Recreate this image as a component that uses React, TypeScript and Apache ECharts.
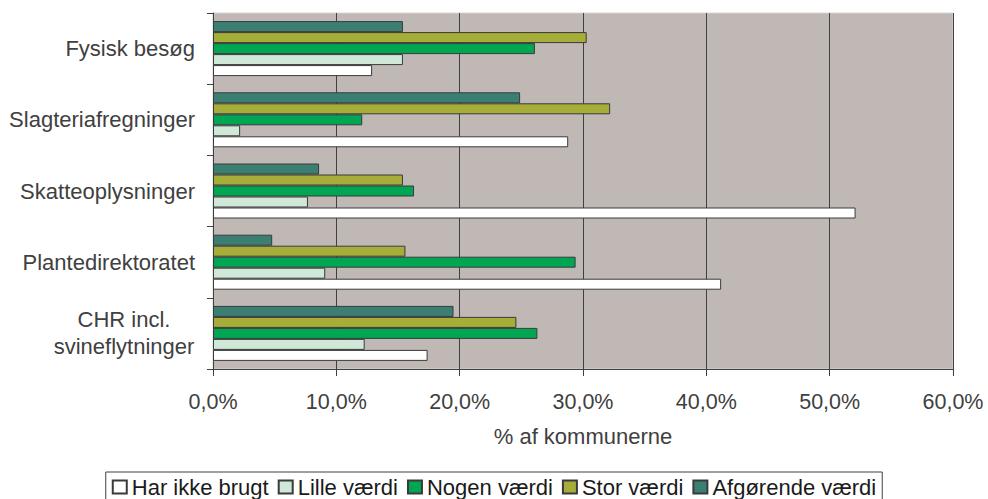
import React, { useEffect, useRef } from "react";
import * as echarts from "echarts";

const categories = [
  "Fysisk besøg",
  "Slagteriafregninger",
  "Skatteoplysninger",
  "Plantedirektoratet",
  "CHR incl.\nsvineflytninger",
];

const seriesNames = [
  "Har ikke brugt",
  "Lille værdi",
  "Nogen værdi",
  "Stor værdi",
  "Afgørende værdi",
];

const harIkkeBrugt = [12.9, 28.8, 52.1, 41.2, 17.4];
const lilleVaerdi = [15.4, 2.2, 7.7, 9.1, 12.3];
const nogenVaerdi = [26.1, 12.1, 16.3, 29.4, 26.3];
const storVaerdi = [30.3, 32.2, 15.4, 15.6, 24.6];
const afgoerendeVaerdi = [15.4, 24.9, 8.6, 4.8, 19.5];

const xTicks = [0, 10, 20, 30, 40, 50, 60];

const colors = ["#FFFFFF", "#CFE8D7", "#00A651", "#A6AD38", "#3B7F73"];

export default function App() {
  const ref = useRef<HTMLDivElement>(null);
  useEffect(() => {
    if (!ref.current) return;
    const chart = echarts.init(ref.current, undefined, { renderer: "svg" });
    const values = [harIkkeBrugt, lilleVaerdi, nogenVaerdi, storVaerdi, afgoerendeVaerdi];
    const font = "'Liberation Sans', Arial, sans-serif";
    const series = seriesNames
      .map((name, i) => ({
        name,
        type: "bar",
        data: values[i],
        barWidth: 11,
        barGap: "0%",
        itemStyle: { color: colors[i], borderColor: "#3a3a3a", borderWidth: 1 },
      }))
      .reverse();
    chart.setOption({
      animation: false,
      textStyle: { fontFamily: font },
      grid: {
        left: 213,
        right: 35,
        top: 13,
        bottom: 130,
        show: true,
        backgroundColor: "#C0B8B5",
        borderColor: "#d8d4d3",
        borderWidth: 1,
      },
      legend: {
        data: seriesNames,
        left: "center",
        top: 472,
        orient: "horizontal",
        borderColor: "#404040",
        borderWidth: 1,
        borderRadius: 0,
        padding: [4, 6, 4, 6],
        itemGap: 9,
        itemWidth: 14,
        itemHeight: 13,
        icon: "rect",
        textStyle: { fontSize: 22, color: "#1a1a1a", fontFamily: font },
      },
      xAxis: {
        type: "value",
        min: xTicks[0],
        max: xTicks[xTicks.length - 1],
        interval: 10,
        name: "% af kommunerne",
        nameLocation: "middle",
        nameGap: 56,
        nameTextStyle: { fontSize: 22, color: "#404040", fontFamily: font },
        axisLine: { show: true, lineStyle: { color: "#404040", width: 1 } },
        axisTick: { show: true, length: 7, lineStyle: { color: "#404040" } },
        axisLabel: {
          fontSize: 21.5,
          color: "#404040",
          margin: 22,
          fontFamily: font,
          formatter: (v: number) => v.toFixed(1).replace(".", ",") + "%",
        },
        splitLine: { show: true, lineStyle: { color: "#404040", width: 1 } },
      },
      yAxis: {
        type: "category",
        data: categories,
        inverse: true,
        axisLine: { show: true, lineStyle: { color: "#404040", width: 1 } },
        axisTick: { show: true, length: 6, alignWithLabel: false, lineStyle: { color: "#404040" } },
        axisLabel: {
          fontSize: 22,
          color: "#404040",
          margin: 18,
          fontFamily: font,
          lineHeight: 27,
          formatter: (v: string) =>
            v.indexOf("\n") >= 0
              ? v.split("\n").map((s) => "{c|" + s + "}").join("\n")
              : v,
          rich: {
            c: { width: 142, align: "center", fontSize: 22, color: "#404040", fontFamily: font, lineHeight: 27 },
          },
        },
      },
      series,
    });
    return () => chart.dispose();
  }, []);
  return (
    <div
      ref={ref}
      style={{ position: "fixed", left: 0, top: 0, width: 988, height: 499, background: "#fff" }}
    />
  );
}
